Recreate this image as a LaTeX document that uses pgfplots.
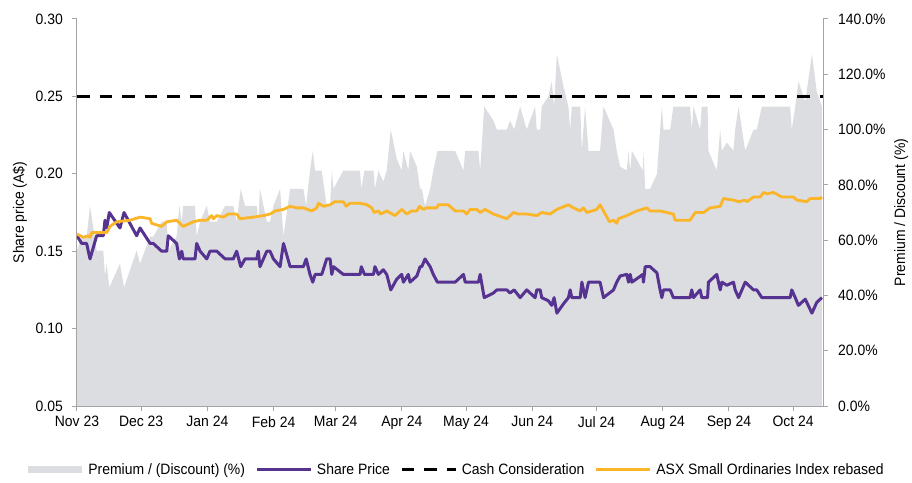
\documentclass[border=0pt]{standalone}
\usepackage{fontspec}
\setmainfont{Liberation Sans}[FakeStretch=0.93]
\usepackage{pgfplots}
\usepackage{pgfplotstable}
\pgfplotsset{compat=1.18}
\definecolor{areagray}{RGB}{220,221,224}
\definecolor{sppurple}{RGB}{86,50,145}
\definecolor{asxorange}{RGB}{251,181,40}
\definecolor{axgray}{RGB}{165,165,165}

\pgfplotstableread{
d p
0 0.160
2.2 0.155
4.5 0.155
6.1 0.145
9.2 0.160
12.3 0.160
13.1 0.170
13.9 0.165
15.1 0.175
20.1 0.165
22.0 0.175
27.9 0.160
29.5 0.165
34.2 0.155
35.7 0.155
39.6 0.150
42.0 0.150
42.7 0.160
46.6 0.155
47.9 0.145
49.0 0.150
49.7 0.145
55.2 0.145
56.0 0.155
57.6 0.150
60.7 0.145
62.2 0.150
65.4 0.150
69.3 0.145
73.1 0.145
74.7 0.150
76.6 0.140
78.6 0.145
84.1 0.145
84.8 0.150
85.6 0.140
88.8 0.150
90.3 0.150
91.9 0.145
95.0 0.140
96.6 0.155
99.7 0.140
105.9 0.140
107.2 0.145
109.0 0.135
110.3 0.130
111.4 0.135
114.5 0.135
116.8 0.145
118.4 0.145
119.2 0.135
120.0 0.140
124.6 0.135
132.4 0.135
133.0 0.140
134.5 0.135
138.7 0.135
139.4 0.140
141.0 0.135
143.3 0.138
144.9 0.135
146.8 0.125
149.6 0.132
151.9 0.135
152.7 0.130
155.0 0.135
155.8 0.130
159.0 0.134
160.5 0.140
161.3 0.140
162.8 0.145
165.2 0.140
166.7 0.135
168.6 0.130
176.9 0.130
180.8 0.135
181.6 0.130
187.8 0.130
188.6 0.135
190.5 0.120
194.8 0.123
196.4 0.125
201.1 0.125
202.6 0.123
204.5 0.125
207.3 0.120
210.4 0.125
214.3 0.120
215.1 0.125
216.7 0.125
217.4 0.120
220.5 0.118
222.1 0.115
223.2 0.120
224.5 0.110
227.6 0.116
229.9 0.120
230.7 0.125
231.5 0.120
235.4 0.120
236.2 0.130
237.7 0.120
239.3 0.130
244.7 0.130
246.3 0.120
251.0 0.125
252.5 0.130
254.1 0.134
257.2 0.135
258.0 0.130
258.8 0.135
259.6 0.130
262.7 0.133
264.7 0.135
265.0 0.130
265.8 0.140
268.1 0.140
271.3 0.136
272.8 0.125
273.6 0.120
274.4 0.125
277.5 0.125
279.0 0.120
286.8 0.120
287.6 0.125
288.4 0.120
291.5 0.125
292.3 0.120
295.0 0.120
295.4 0.130
299.3 0.135
300.9 0.125
301.7 0.130
304.0 0.128
307.1 0.130
307.9 0.125
309.5 0.120
312.6 0.130
316.5 0.125
318.0 0.125
320.4 0.120
333.6 0.120
334.4 0.125
336.0 0.120
337.5 0.115
340.7 0.119
343.8 0.110
346.1 0.117
348.5 0.120
}\priceTable

\pgfplotstableread{
d v
0 0.161
3.0 0.159
5.3 0.160
6.1 0.159
6.9 0.162
13.9 0.162
15.4 0.166
18.6 0.169
24.8 0.170
29.5 0.172
34.2 0.171
34.9 0.168
39.6 0.166
42.0 0.169
46.6 0.170
49.7 0.166
54.4 0.169
57.6 0.170
60.7 0.170
63.0 0.173
63.8 0.171
65.4 0.173
68.5 0.172
70.8 0.174
74.7 0.174
76.3 0.171
82.5 0.172
87.2 0.173
90.3 0.174
92.7 0.176
96.6 0.177
99.7 0.179
102.8 0.178
105.9 0.178
109.8 0.176
112.2 0.178
112.9 0.181
115.3 0.179
118.4 0.180
120.7 0.182
124.6 0.182
125.9 0.179
127.7 0.181
132.4 0.181
135.6 0.180
137.9 0.178
139.0 0.175
141.0 0.176
142.1 0.174
144.9 0.176
148.8 0.173
151.9 0.177
154.3 0.174
156.6 0.176
159.0 0.176
160.2 0.179
162.0 0.177
163.6 0.178
168.3 0.178
169.1 0.180
173.7 0.180
176.9 0.176
180.8 0.176
182.3 0.174
183.9 0.177
187.0 0.177
188.6 0.175
190.9 0.177
194.8 0.174
201.1 0.171
204.2 0.175
206.5 0.174
210.4 0.174
215.1 0.173
217.4 0.175
221.3 0.174
224.5 0.177
229.9 0.180
232.2 0.178
235.4 0.176
236.9 0.178
238.5 0.175
243.2 0.177
244.7 0.180
249.1 0.169
251.0 0.170
252.5 0.168
253.3 0.171
257.2 0.173
261.9 0.176
266.6 0.178
268.1 0.176
272.8 0.176
275.9 0.175
279.0 0.174
279.8 0.170
286.8 0.170
289.2 0.175
293.1 0.175
296.2 0.178
300.9 0.179
302.4 0.184
307.1 0.183
309.5 0.182
312.6 0.183
313.4 0.182
316.5 0.185
319.6 0.185
321.2 0.188
322.7 0.187
325.8 0.188
329.8 0.185
335.2 0.185
336.8 0.183
341.4 0.182
343.0 0.184
347.7 0.184
348.5 0.185
}\asxTable

\pgfplotstableread{
d q
0 56.25
2.2 61.29
4.5 61.29
6.1 72.41
9.2 56.25
12.3 56.25
13.1 47.06
13.9 51.52
15.1 42.86
20.1 51.52
22.0 42.86
27.9 56.25
29.5 51.52
34.2 61.29
35.7 61.29
39.6 66.67
42.0 66.67
42.7 56.25
46.6 61.29
47.9 72.41
49.0 66.67
49.7 72.41
55.2 72.41
56.0 61.29
57.6 66.67
60.7 72.41
62.2 66.67
65.4 66.67
69.3 72.41
73.1 72.41
74.7 66.67
76.6 78.57
78.6 72.41
84.1 72.41
84.8 66.67
85.6 78.57
88.8 66.67
90.3 66.67
91.9 72.41
95.0 78.57
96.6 61.29
99.7 78.57
105.9 78.57
107.2 72.41
109.0 85.19
110.3 92.31
111.4 85.19
114.5 85.19
116.8 72.41
118.4 72.41
119.2 85.19
120.0 78.57
124.6 85.19
132.4 85.19
133.0 78.57
134.5 85.19
138.7 85.19
139.4 78.57
141.0 85.19
143.3 81.16
144.9 85.19
146.8 100.00
149.6 89.39
151.9 85.19
152.7 92.31
155.0 85.19
155.8 92.31
159.0 86.57
160.5 78.57
161.3 78.57
162.8 72.41
165.2 78.57
166.7 85.19
168.6 92.31
176.9 92.31
180.8 85.19
181.6 92.31
187.8 92.31
188.6 85.19
190.5 108.33
194.8 103.25
196.4 100.00
201.1 100.00
202.6 103.25
204.5 100.00
207.3 108.33
210.4 100.00
214.3 108.33
215.1 100.00
216.7 100.00
217.4 108.33
220.5 111.86
222.1 117.39
223.2 108.33
224.5 127.27
227.6 115.52
229.9 108.33
230.7 100.00
231.5 108.33
235.4 108.33
236.2 92.31
237.7 108.33
239.3 92.31
244.7 92.31
246.3 108.33
251.0 100.00
252.5 92.31
254.1 86.57
257.2 85.19
258.0 92.31
258.8 85.19
259.6 92.31
262.7 87.97
264.7 85.19
265.0 92.31
265.8 78.57
268.1 78.57
271.3 83.82
272.8 100.00
273.6 108.33
274.4 100.00
277.5 100.00
279.0 108.33
286.8 108.33
287.6 100.00
288.4 108.33
291.5 100.00
292.3 108.33
295.0 108.33
295.4 92.31
299.3 85.19
300.9 100.00
301.7 92.31
304.0 95.31
307.1 92.31
307.9 100.00
309.5 108.33
312.6 92.31
316.5 100.00
318.0 100.00
320.4 108.33
333.6 108.33
334.4 100.00
336.0 108.33
337.5 117.39
340.7 110.08
343.8 127.27
346.1 113.68
348.5 108.33
}\premTable

\pgfplotsset{
  every axis/.append style={
    width=746pt, height=387pt, scale only axis,
    xmin=0, xmax=349,
    font=\fontsize{15}{18}\selectfont,
    /pgf/number format/assume math mode=true,
    axis line style={draw=axgray, line width=1pt},
    tick style={draw=axgray, line width=1pt},
    tick align=outside, major tick length=5pt,
  },
  linelegend/.style={legend image code/.code={\path[draw=none,fill=none] (-12pt,0pt) rectangle (60pt,0.1pt); \draw[##1] (0pt,0pt) -- (54pt,0pt);}},
  arealegend/.style={legend image code/.code={\path[draw=none,fill=none] (-12pt,0pt) rectangle (60pt,0.1pt); \fill[areagray,draw=none] (0pt,-3.5pt) rectangle (54pt,3.5pt);}},
}

\begin{document}
\fontsize{15}{18}\selectfont
\begin{tikzpicture}
\useasboundingbox (-77pt,-76pt) rectangle (835pt,406pt);
% premium area on right axis
\begin{axis}[
  axis x line=none,
  axis y line*=right,
  ymin=0, ymax=140,
  ytick={0,20,...,140},
  yticklabel={\pgfmathprintnumber[fixed,fixed zerofill,precision=1]{\tick}\%},
  yticklabel style={xshift=5pt},
  ylabel={Premium / Discount (\%)},
  ylabel style={at={(axis description cs:1.105,0.5)}, anchor=center},
]
\addplot[fill=areagray, draw=none] table[x=d,y=q] {\premTable} \closedcycle;
\end{axis}
% lines on left axis
\begin{axis}[
  axis x line*=bottom,
  axis y line*=left,
  ymin=0.05, ymax=0.30,
  ytick={0.05,0.10,...,0.30},
  yticklabel style={xshift=-4pt,/pgf/number format/.cd,fixed,fixed zerofill,precision=2},
  xtick={0,30,61,92,121,152,182,213,243,274,305,335},
  xticklabels={Nov 23,Dec 23,Jan 24,Feb 24,Mar 24,Apr 24,May 24,Jun 24,Jul 24,Aug 24,Sep 24,Oct 24},
  ylabel={Share price (A\$)},
  ylabel style={at={(axis description cs:-0.0764,0.5)}, anchor=center},
  legend columns=-1,
  legend style={draw=none, fill=none, at={(axis description cs:0.5,-0.165)}, anchor=center,
    font=\fontsize{15}{18}\selectfont, inner sep=0pt,
    nodes={inner sep=0pt}},
]
\addlegendimage{arealegend}
\addlegendentry{Premium / (Discount) (\%)}
\addplot[sppurple, line width=3pt, line join=round, linelegend]
  table[x=d,y=p] {\priceTable};
\addlegendentry{Share Price}
\addplot[black, line width=3pt, dash pattern=on 12.5pt off 10pt, linelegend]
  coordinates {(0,0.25) (349,0.25)};
\addlegendentry{Cash Consideration}
\addplot[asxorange, line width=2.8pt, line join=round, linelegend]
  table[x=d,y=v] {\asxTable};
\addlegendentry{ASX Small Ordinaries Index rebased}
\end{axis}
\end{tikzpicture}
\end{document}
